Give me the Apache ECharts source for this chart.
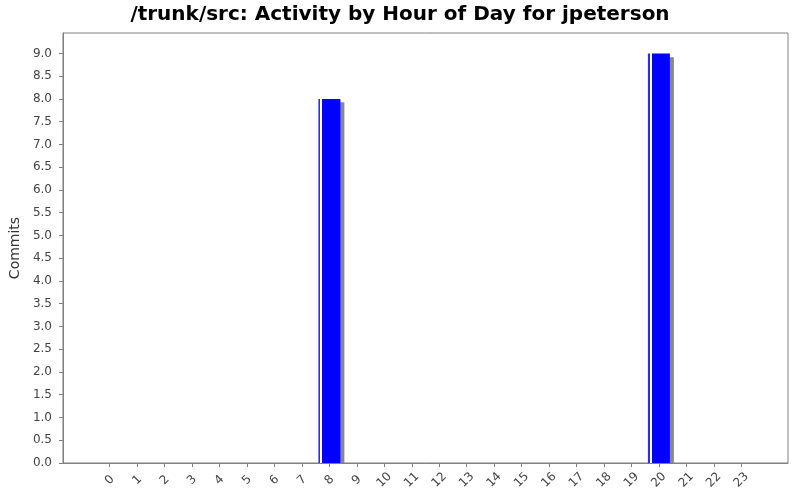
<!DOCTYPE html>
<html>
<head>
<meta charset="utf-8">
<script src="https://cdn.jsdelivr.net/npm/echarts@6/dist/echarts.min.js"></script>
<style>html,body{margin:0;padding:0;background:#fff}#c{width:800px;height:500px}</style>
</head>
<body>
<div id="c"></div>
<script>
var titleText = '/trunk/src: Activity by Hour of Day for jpeterson';
var hours = ['0','1','2','3','4','5','6','7','8','9','10','11','12','13','14','15','16','17','18','19','20','21','22','23'];
var commits = [0,0,0,0,0,0,0,0,8,0,0,0,0,0,0,0,0,0,0,0,9,0,0,0];
var yTicks = [0,0.5,1,1.5,2,2.5,3,3.5,4,4.5,5,5.5,6,6.5,7,7.5,8,8.5,9];
var yMax = 9.45;

var chart = echarts.init(document.getElementById('c'), null, {renderer:'canvas'});
var font = 'DejaVu Sans';
var barFill = {
  type:'linear', x:0, y:0, x2:1, y2:0,
  colorStops:[
    {offset:0, color:'#2a2aff'},
    {offset:0.08, color:'#2a2aff'},
    {offset:0.08, color:'#ffffff'},
    {offset:0.18, color:'#ffffff'},
    {offset:0.18, color:'#0000ff'},
    {offset:1, color:'#0000ff'}
  ]
};
chart.setOption({
  backgroundColor:'#ffffff',
  animation:false,
  title:{
    text:titleText, left:'center', top:0,
    textStyle:{fontFamily:font, fontWeight:'bold', fontSize:20, color:'#000'}
  },
  grid:[
    {left:62, right:12, top:33, bottom:37, show:true, borderColor:'#808080', borderWidth:1, backgroundColor:'#ffffff'},
    {left:96, right:45, top:33, bottom:37},
    {left:100, right:41, top:37, bottom:37}
  ],
  xAxis:[
    {gridIndex:0, type:'value', min:0, max:1, offset:3,
     axisLine:{show:true, lineStyle:{color:'#808080'}},
     axisTick:{show:false}, axisLabel:{show:false}, splitLine:{show:false}},
    {gridIndex:1, type:'category', data:hours, offset:3,
     axisLine:{show:false},
     axisTick:{show:true, alignWithLabel:true, length:4, lineStyle:{color:'#808080'}},
     axisLabel:{rotate:45, interval:0, margin:14, align:'center', verticalAlign:'middle',
       fontFamily:font, fontSize:12, color:'#444'},
     splitLine:{show:false}},
    {gridIndex:2, type:'category', data:hours, show:false}
  ],
  yAxis:[
    {gridIndex:0, type:'value', min:0, max:yMax, offset:3,
     name:'Commits', nameLocation:'middle', nameGap:31,
     nameTextStyle:{fontFamily:font, fontSize:14, color:'#333'},
     axisLine:{show:true, lineStyle:{color:'#808080'}},
     axisTick:{show:true, length:4, customValues:yTicks, lineStyle:{color:'#808080'}},
     axisLabel:{customValues:yTicks, margin:8, fontFamily:font, fontSize:12, color:'#444',
       formatter:function(v){return v.toFixed(1);}},
     splitLine:{show:false}},
    {gridIndex:1, type:'value', min:0, max:yMax, show:false},
    {gridIndex:2, type:'value', min:0, max:yMax, show:false}
  ],
  series:[
    {type:'bar', name:'shadow', xAxisIndex:2, yAxisIndex:2, data:commits, barWidth:'80%', z:1,
     silent:true, itemStyle:{color:'#888888'}},
    {type:'bar', name:'Commits', xAxisIndex:1, yAxisIndex:1, data:commits, barWidth:'80%', z:2,
     itemStyle:{color:barFill}}
  ]
});
</script>
</body>
</html>
